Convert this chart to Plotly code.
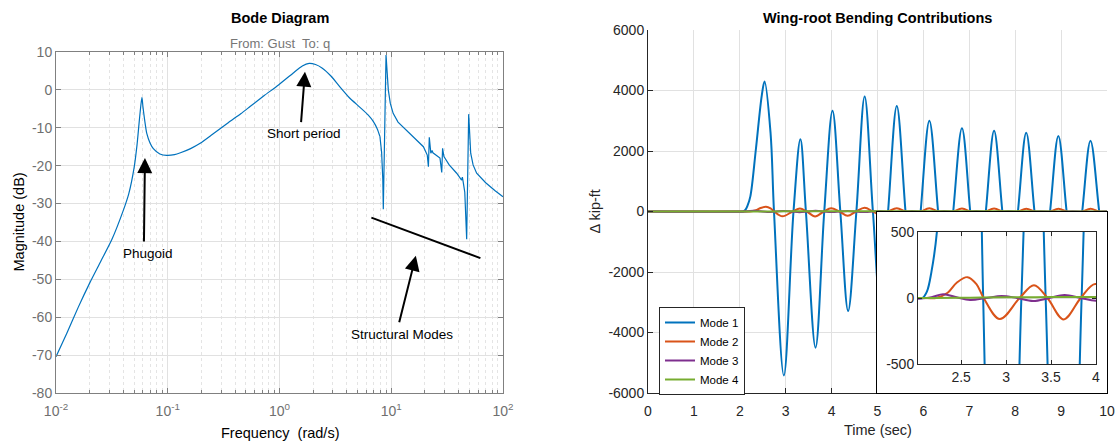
import numpy as np
import plotly.graph_objects as go

# ---------------- Data ----------------
# Bode magnitude (From: Gust To: q)
bode_freq_smooth = [0.01, 0.0125, 0.0158, 0.02, 0.025, 0.0316, 0.0398, 0.0447, 0.05, 0.0531,
                    0.0555, 0.0575, 0.0588, 0.060, 0.0625, 0.0649, 0.0694, 0.0743, 0.085, 0.098,
                    0.115, 0.13, 0.16, 0.195, 0.25, 0.35, 0.45, 0.545, 0.73, 0.98, 1.32, 1.6,
                    1.84, 2.1, 2.4, 2.9, 3.47, 4.2, 5.25, 6.2, 6.9, 7.5, 7.92]
bode_mag_smooth = [-70.4, -64.2, -57.4, -51.0, -45.4, -39.5, -32.0, -27.5, -20.5, -14.5,
                   -8.5, -4.0, -2.0, -4.5, -8.5, -11.5, -14.0, -15.5, -16.9, -17.3,
                   -17.1, -16.6, -15.5, -14.1, -11.8, -8.6, -6.3, -4.4, -1.5, 1.3, 4.4, 6.3,
                   7.0, 6.7, 5.8, 3.6, 0.8, -2.0, -4.6, -6.6, -8.3, -10.3, -12.3]
bode_freq_struct = [7.92, 8.2, 8.4, 8.49, 8.98, 9.2, 9.41, 9.8, 10.4, 11.5, 13.7, 16.5, 19.4,
                    21.0, 21.5, 21.9, 22.6, 23.2, 23.6, 27.3, 28.3, 28.8, 29.6, 33.0, 38.5,
                    42.6, 43.3, 44.2, 45.5, 47.3, 49.3, 51.4, 54.0, 58.1, 70.0, 85.0, 100.0]
bode_mag_struct = [-12.3, -16.5, -23.5, -31.5, 9.2, 3.0, 0.0, -3.5, -6.2, -8.5, -10.6, -12.8, -15.0,
                   -17.2, -20.3, -12.5, -16.7, -16.0, -16.6, -18.0, -21.8, -15.4, -17.6, -19.8, -22.0,
                   -23.8, -23.0, -24.6, -27.0, -39.4, -6.4, -16.7, -19.8, -22.0, -24.5, -26.6, -28.2]
# Hand-drawn "structural modes" bar
struct_line_freq = [6.64, 62.8]
struct_line_mag = [-33.7, -44.4]

# Annotation points (head freq, head dB, label freq, label dB, tail dx px, tail dy px)
notes = {
    "Short period": (1.69, 4.8, 1.66, -11.4, -4, 52),
    "Phugoid": (0.0625, -18.0, 0.066, -43.1, -1, 85),
    "Structural Modes": (16.6, -43.8, 12.4, -64.5, -17, 68),
}

# Wing-root bending contributions
mode1_t = [0.0, 2.0, 2.07, 2.12, 2.17, 2.23, 2.35, 2.48, 2.54, 2.67, 2.745, 2.96, 3.17, 3.32,
           3.44, 3.65, 3.84, 4.02, 4.19, 4.36, 4.54, 4.72, 4.90, 5.06, 5.23, 5.42, 5.61, 5.78,
           5.94, 6.13, 6.32, 6.49, 6.65, 6.84, 7.02, 7.19, 7.36, 7.54, 7.72, 7.89, 8.06, 8.24,
           8.42, 8.59, 8.76, 8.94, 9.12, 9.29, 9.46, 9.64, 9.83, 10.0]
mode1_v = [0, 0, 0, 50, 200, 500, 2050, 3850, 4300, 2600, 0, -5420, 0, 2390,
           0, -4500, 0, 3330, 0, -3290, 0, 3800, 0, -3100, 0, 3490, 0, -2900,
           0, 3000, 0, -2700, 0, 2750, 0, -2600, 0, 2670, 0, -2500, 0, 2600,
           0, -2400, 0, 2500, 0, -2300, 0, 2340, 0, -2200]
mode2_t = [0.0, 2.1, 2.22, 2.35, 2.45, 2.57, 2.67, 2.75, 2.93, 3.15, 3.31, 3.46, 3.64, 3.83,
           3.99, 4.17, 4.35, 4.53, 4.72, 4.90, 5.07, 5.24, 5.42, 5.60, 5.78, 5.95, 6.13, 6.31,
           6.49, 6.66, 6.84, 7.02, 7.19, 7.36, 7.54, 7.72, 7.89, 8.07, 8.24, 8.42, 8.59, 8.77,
           8.94, 9.12, 9.29, 9.47, 9.64, 9.82, 10.0]
mode2_v = [0, 0, 0, 40, 115, 158, 105, 0, -160, 0, 97, 0, -162, 0,
           106, 0, -140, 0, 125, 0, -120, 0, 110, 0, -110, 0, 105, 0,
           -100, 0, 100, 0, -95, 0, 98, 0, -95, 0, 95, 0, -90, 0,
           92, 0, -90, 0, 90, 0, -85]
mode3_t = [0.0, 2.12, 2.3, 2.45, 2.6, 2.78, 2.95, 3.12, 3.3, 3.48, 3.65, 3.83, 4.0, 4.35,
           4.7, 5.05, 5.4, 5.75, 6.1, 6.45, 6.8, 7.15, 7.5, 7.85, 8.2, 8.55, 8.9, 9.25, 9.6,
           9.95, 10.0]
mode3_v = [0, 0, 28, 5, -15, 0, 15, 0, -23, 0, 23, 0, -20, 20,
           -18, 18, -16, 16, -15, 15, -14, 14, -13, 13, -12, 12, -11, 11, -10,
           10, 9]
mode4_t = [0.0, 2.2, 2.6, 3.0, 3.5, 4.0, 5.0, 6.0, 7.0, 8.0, 9.0, 10.0]
mode4_v = [0, 0, 2, 5, 7, 8, 7, 6, 5, 5, 4, 4]

mode_names = ["Mode 1", "Mode 2", "Mode 3", "Mode 4"]
mode_colors = ["#0072BD", "#D95319", "#7E2F8E", "#77AC30"]
modes = [(mode1_t, mode1_v), (mode2_t, mode2_v), (mode3_t, mode3_v), (mode4_t, mode4_v)]

# Tick labels
bode_xticks = [0.01, 0.1, 1, 10, 100]
bode_xticktext = ["10<sup>-2</sup>", "10<sup>-1</sup>", "10<sup>0</sup>", "10<sup>1</sup>", "10<sup>2</sup>"]
bode_yticks = [-80, -70, -60, -50, -40, -30, -20, -10, 0, 10]
bode_minor = [m * 10.0 ** e for e in range(-2, 2) for m in range(2, 10)]
time_ticks = [0, 1, 2, 3, 4, 5, 6, 7, 8, 9, 10]
bend_yticks = [-6000, -4000, -2000, 0, 2000, 4000, 6000]
inset_xticks = [2.5, 3, 3.5, 4]
inset_yticks = [-500, 0, 500]

# ---------------- Figure ----------------
W, H = 1118, 444
FONT = "Liberation Sans, Arial, Helvetica, sans-serif"


def px_x(p):
    return p / W


def px_y(p):
    return 1 - p / H


fig = go.Figure()

# Bode traces
fig.add_trace(go.Scatter(x=bode_freq_smooth, y=bode_mag_smooth, mode="lines",
                         line=dict(color="#0072BD", width=1.2, shape="spline", smoothing=0.6),
                         xaxis="x", yaxis="y", showlegend=False, hoverinfo="skip"))
fig.add_trace(go.Scatter(x=bode_freq_struct, y=bode_mag_struct, mode="lines",
                         line=dict(color="#0072BD", width=1.2),
                         xaxis="x", yaxis="y", showlegend=False, hoverinfo="skip"))
fig.add_trace(go.Scatter(x=struct_line_freq, y=struct_line_mag, mode="lines",
                         line=dict(color="black", width=2),
                         xaxis="x", yaxis="y", showlegend=False, hoverinfo="skip"))

# Main bending traces
for (t, v), name, col in zip(modes, mode_names, mode_colors):
    fig.add_trace(go.Scatter(x=t, y=v, mode="lines", name=name,
                             line=dict(color=col, width=2, shape="spline", smoothing=1.0),
                             xaxis="x2", yaxis="y2", hoverinfo="skip"))

# White box that holds the inset (empty subplot)
fig.add_trace(go.Scatter(x=[], y=[], xaxis="x3", yaxis="y3", showlegend=False, hoverinfo="skip"))

# Inset traces
for (t, v), name, col in zip(modes, mode_names, mode_colors):
    fig.add_trace(go.Scatter(x=t, y=v, mode="lines", name=name, showlegend=False,
                             line=dict(color=col, width=2, shape="spline", smoothing=1.0),
                             xaxis="x4", yaxis="y4", hoverinfo="skip"))

gray_axis = "#808080"
gray_tick = "#6f6f6f"
dark = "#262626"
grid = "#e1e1e1"

common = dict(automargin=False, zeroline=False)

fig.update_layout(
    width=W, height=H,
    margin=dict(l=0, r=0, t=0, b=0, pad=0),
    paper_bgcolor="white", plot_bgcolor="white",
    font=dict(family=FONT, size=14, color=dark),
    showlegend=True,
    legend=dict(x=px_x(659), y=px_y(307), xanchor="left", yanchor="top",
                bgcolor="white", bordercolor=dark, borderwidth=1,
                font=dict(size=11.5, color="black"), tracegroupgap=0),
    xaxis=dict(type="log", range=[-2, 2], domain=[px_x(56), px_x(503)], anchor="y",
               showline=True, linecolor=gray_axis, linewidth=1, mirror="ticks",
               ticks="inside", ticklen=5, tickcolor=gray_axis,
               tickmode="array", tickvals=bode_xticks, ticktext=bode_xticktext,
               tickfont=dict(size=14, color=gray_tick), ticklabelstandoff=5,
               showgrid=True, gridcolor=grid,
               minor=dict(tickmode="array", tickvals=bode_minor, ticks="inside", ticklen=3,
                          tickcolor=gray_axis, showgrid=True, gridcolor="#e4e4e4", griddash="dot"),
               **common),
    yaxis=dict(range=[-80, 10], domain=[px_y(393), px_y(52)], anchor="x",
               showline=True, linecolor=gray_axis, linewidth=1, mirror="ticks",
               ticks="inside", ticklen=5, tickcolor=gray_axis,
               tickmode="array", tickvals=bode_yticks, ticktext=[str(v) for v in bode_yticks],
               tickfont=dict(size=14, color=gray_tick),
               showgrid=True, gridcolor=grid, **common),
    xaxis2=dict(range=[0, 10], domain=[px_x(648), px_x(1107)], anchor="y2",
                showline=True, linecolor=dark, linewidth=1, mirror=False,
                ticks="inside", ticklen=5, tickcolor=dark,
                tickmode="array", tickvals=time_ticks, ticktext=[str(v) for v in time_ticks],
                tickfont=dict(size=14, color=dark), ticklabelstandoff=5,
                showgrid=True, gridcolor=grid, **common),
    yaxis2=dict(range=[-6000, 6000], domain=[px_y(393), px_y(30)], anchor="x2",
                showline=True, linecolor=dark, linewidth=1, mirror=False,
                ticks="inside", ticklen=5, tickcolor=dark,
                tickmode="array", tickvals=bend_yticks, ticktext=[str(v) for v in bend_yticks],
                tickfont=dict(size=14, color=dark),
                showgrid=True, gridcolor=grid, **common),
    xaxis3=dict(range=[0, 1], domain=[px_x(877), px_x(1107)], anchor="y3",
                showline=True, linecolor="black", linewidth=1.2, mirror=True,
                showticklabels=False, ticks="", showgrid=False, fixedrange=True, **common),
    yaxis3=dict(range=[0, 1], domain=[px_y(393), px_y(212)], anchor="x3",
                showline=True, linecolor="black", linewidth=1.2, mirror=True,
                showticklabels=False, ticks="", showgrid=False, fixedrange=True, **common),
    xaxis4=dict(range=[2.02, 4], domain=[px_x(918), px_x(1096)], anchor="y4",
                showline=True, linecolor=dark, linewidth=1, mirror="ticks",
                ticks="inside", ticklen=4, tickcolor=dark,
                tickmode="array", tickvals=inset_xticks, ticktext=[str(v) for v in inset_xticks],
                tickfont=dict(size=14, color=dark),
                showgrid=True, gridcolor=grid, **common),
    yaxis4=dict(range=[-500, 500], domain=[px_y(364), px_y(232)], anchor="x4",
                showline=True, linecolor=dark, linewidth=1, mirror="ticks",
                ticks="inside", ticklen=4, tickcolor=dark,
                tickmode="array", tickvals=inset_yticks, ticktext=[str(v) for v in inset_yticks],
                tickfont=dict(size=14, color=dark),
                showgrid=True, gridcolor=grid, **common),
)

ann = []
# titles and axis labels
ann.append(dict(text="<b>Bode Diagram</b>", x=px_x(279.5), y=px_y(18), xref="paper", yref="paper",
                showarrow=False, font=dict(size=14.5, color="black"), xanchor="center", yanchor="middle"))
ann.append(dict(text="From: Gust\u00a0 To: q", x=px_x(279.5), y=px_y(43), xref="paper", yref="paper",
                showarrow=False, font=dict(size=13, color="#767676"), xanchor="center", yanchor="middle"))
ann.append(dict(text="<b>Wing-root Bending Contributions</b>", x=px_x(877.5), y=px_y(18), xref="paper",
                yref="paper", showarrow=False, font=dict(size=14.5, color="black"),
                xanchor="center", yanchor="middle"))
ann.append(dict(text="Magnitude (dB)", x=px_x(18), y=px_y(222.5), xref="paper", yref="paper",
                showarrow=False, textangle=-90, font=dict(size=14.5, color="black"),
                xanchor="center", yanchor="middle"))
ann.append(dict(text="Frequency\u00a0 (rad/s)", x=px_x(279.5), y=px_y(433), xref="paper", yref="paper",
                showarrow=False, font=dict(size=14.5, color="black"), xanchor="center", yanchor="middle"))
ann.append(dict(text="\u0394 kip-ft", x=px_x(595), y=px_y(211.5), xref="paper", yref="paper",
                showarrow=False, textangle=-90, font=dict(size=14.5, color=dark),
                xanchor="center", yanchor="middle"))
ann.append(dict(text="Time (sec)", x=px_x(877.5), y=px_y(430), xref="paper", yref="paper",
                showarrow=False, font=dict(size=14.5, color=dark), xanchor="center", yanchor="middle"))

for label, (hf, hm, lf, lm, dx, dy) in notes.items():
    ann.append(dict(text="", x=np.log10(hf), y=hm, xref="x", yref="y", showarrow=True,
                    ax=dx, ay=dy, axref="pixel", ayref="pixel",
                    arrowhead=2, arrowsize=1.5, arrowwidth=2, arrowcolor="black"))
    ann.append(dict(text=label, x=np.log10(lf), y=lm, xref="x", yref="y", showarrow=False,
                    font=dict(size=13.5, color="black"), xanchor="center", yanchor="middle"))

fig.update_layout(annotations=ann)

fig.write_html("out.html",
               config={"displayModeBar": False},
               post_script="document.body.style.margin='0';document.body.style.padding='0';"
                           "document.documentElement.style.overflow='hidden';")
